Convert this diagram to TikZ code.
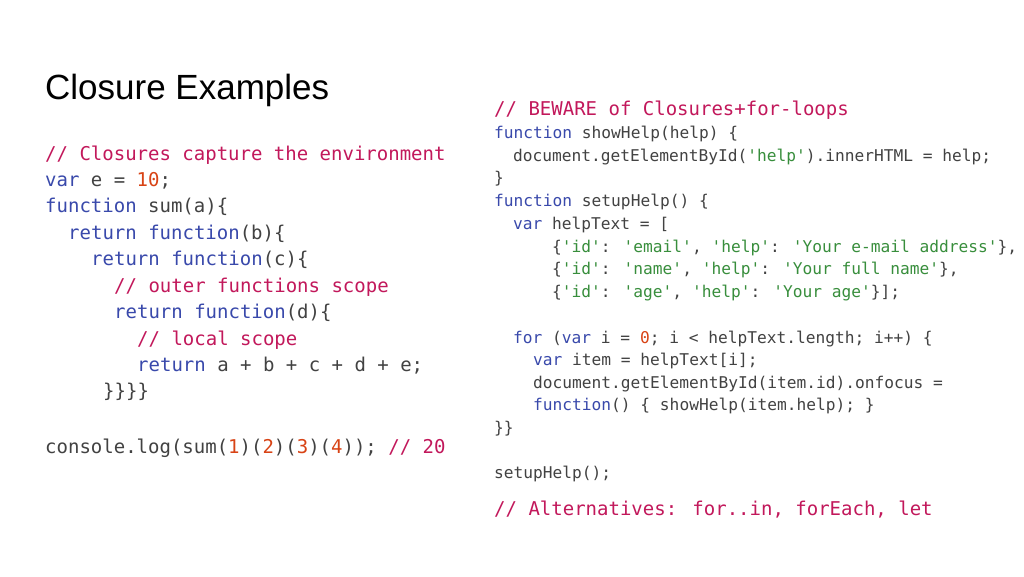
\documentclass[tikz,border=0pt]{standalone}
\usepackage{fontspec}
\setmainfont{Liberation Sans}
\newfontfamily\codefont{DejaVu Sans Mono}
\definecolor{cmcol}{HTML}{C2185B}
\definecolor{kwcol}{HTML}{3949AB}
\definecolor{numcol}{HTML}{D84315}
\definecolor{strcol}{HTML}{388E3C}
\definecolor{txtcol}{HTML}{424242}
\newcommand*{\kw}[1]{\textcolor{kwcol}{#1}}
\newcommand*{\cm}[1]{\textcolor{cmcol}{#1}}
\newcommand*{\nm}[1]{\textcolor{numcol}{#1}}
\newcommand*{\st}[1]{\textcolor{strcol}{#1}}
\tikzset{
    % big code lines
    codebig/.style={anchor=base west, inner sep=0pt, text=txtcol,
           font=\codefont\fontsize{19}{19}\selectfont},
    % small code lines
    codesmall/.style={anchor=base west, inner sep=0pt, text=txtcol,
           font=\codefont\fontsize{16.2}{16.2}\selectfont},
}
\begin{document}
\begin{tikzpicture}[x=1pt,y=-1pt]
\useasboundingbox[fill=white] (0,0) rectangle (1024,576);
\node[anchor=base west, inner sep=0pt, font=\fontsize{35}{35}\selectfont] (title) at (45,99) {Closure Examples};

% left column
\node[codebig] (l1) at (45,160) {\cm{// Closures capture the environment}};
\node[codebig] (l2) at (45,186) {\kw{var} e = \nm{10};};
\node[codebig] (l3) at (45,212) {\kw{function} sum(a)\{};
\node[codebig] (l4) at (68,239) {\kw{return} \kw{function}(b)\{};
\node[codebig] (l5) at (91,265) {\kw{return} \kw{function}(c)\{};
\node[codebig] (l6) at (114,292) {\cm{// outer functions scope}};
\node[codebig] (l7) at (114,318) {\kw{return} \kw{function}(d)\{};
\node[codebig] (l8) at (137,345) {\cm{// local scope}};
\node[codebig] (l9) at (137,371) {\kw{return} a + b + c + d + e;};
\node[codebig] (l10) at (103,397) {\}\}\}\}};
\node[codebig] (l11) at (45,453) {console.log(sum(\nm{1})(\nm{2})(\nm{3})(\nm{4})); \cm{// 20}};

% right column
\node[codebig] (r1) at (494,115) {\cm{// BEWARE of Closures+for-loops}};
\node[codesmall] (r2) at (494,138) {\kw{function} showHelp(help) \{};
\node[codesmall] (r3) at (513,161) {document.getElementById(\st{'help'}).innerHTML = help;};
\node[codesmall] (r4) at (494,183) {\}};
\node[codesmall] (r5) at (494,206) {\kw{function} setupHelp() \{};
\node[codesmall] (r6) at (513,229) {\kw{var} helpText = [};
\node[codesmall] (r7) at (552,252) {\{\st{'id'}: \st{'email'}, \st{'help'}: \st{'Your e-mail address'}\},};
\node[codesmall] (r8) at (552,274) {\{\st{'id'}: \st{'name'}, \st{'help'}: \st{'Your full name'}\},};
\node[codesmall] (r9) at (552,297) {\{\st{'id'}: \st{'age'}, \st{'help'}: \st{'Your age'}\}];};
\node[codesmall] (r10) at (513,343) {\kw{for} (\kw{var} i = \nm{0}; i < helpText.length; i++) \{};
\node[codesmall] (r11) at (533,365) {\kw{var} item = helpText[i];};
\node[codesmall] (r12) at (533,388) {document.getElementById(item.id).onfocus =};
\node[codesmall] (r13) at (533,410) {\kw{function}() \{ showHelp(item.help); \}};
\node[codesmall] (r14) at (494,433) {\}\}};
\node[codesmall] (r15) at (494,478) {setupHelp();};
\node[codebig] (r16) at (494,515) {\cm{// Alternatives: for..in, forEach, let}};
\end{tikzpicture}
\end{document}
